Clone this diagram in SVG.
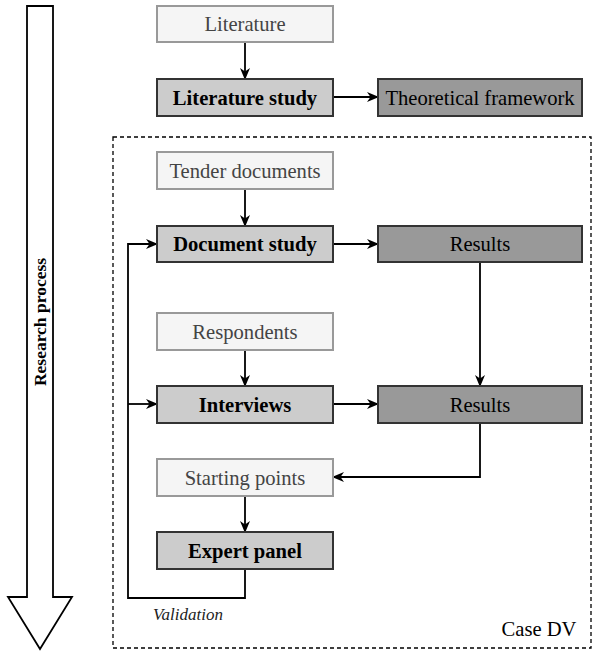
<svg xmlns="http://www.w3.org/2000/svg" width="593" height="652" viewBox="0 0 593 652">
<defs>
<style>
text{font-family:"Liberation Serif","Times New Roman",serif;font-size:20.6px;text-anchor:middle;dominant-baseline:central}
.light rect{fill:#f5f5f5;stroke:#999;stroke-width:2}
.light text{fill:#444}
.mid rect{fill:#ccc;stroke:#333;stroke-width:2}
.mid text{font-weight:bold;fill:#000}
.dark rect{fill:#999;stroke:#333;stroke-width:2}
.dark text{fill:#000}
.conn path{fill:none;stroke:#000;stroke-width:1.8}
</style>
<marker id="ah" viewBox="0 0 12 10" refX="11" refY="5" markerWidth="12" markerHeight="10" markerUnits="userSpaceOnUse" orient="auto">
<path d="M0,0 L12,5 L0,10 L3.5,5 Z" fill="#000"/>
</marker>
</defs>
<rect width="593" height="652" fill="#fff"/>
<g id="process-arrow">
<path d="M27,6 H53 V597 H72 L40,649 L8,597 H27 Z" fill="#fff" stroke="#000" stroke-width="1.8"/>
<text x="40" y="322" transform="rotate(-90 40 322)" style="font-weight:bold;font-size:17.5px">Research process</text>
</g>
<g id="case-dv">
<rect x="113" y="137" width="478" height="511" fill="none" stroke="#000" stroke-width="1.3" stroke-dasharray="4,3"/>
<text x="539" y="629">Case DV</text>
</g>
<g class="conn" id="connectors">
<path d="M245,42 V79" marker-end="url(#ah)"/>
<path d="M333,97 H378" marker-end="url(#ah)"/>
<path d="M245,189 V226" marker-end="url(#ah)"/>
<path d="M333,244 H378" marker-end="url(#ah)"/>
<path d="M480,262 V386" marker-end="url(#ah)"/>
<path d="M245,350 V386" marker-end="url(#ah)"/>
<path d="M333,404 H378" marker-end="url(#ah)"/>
<path d="M480,423 V477 H333" marker-end="url(#ah)"/>
<path d="M245,496 V532" marker-end="url(#ah)"/>
<path d="M245,569 V598 H128 V244 H157" marker-end="url(#ah)"/>
<path d="M128,404 H157" marker-end="url(#ah)"/>
<text x="188" y="614" style="font-style:italic;font-size:17px;fill:#222">Validation</text>
</g>
<g id="literature" class="light"><rect x="157" y="6" width="176" height="36"/><text x="245" y="24">Literature</text></g>
<g id="literature-study" class="mid"><rect x="157" y="79" width="176" height="37"/><text x="245" y="97.5">Literature study</text></g>
<g id="theoretical-framework" class="dark"><rect x="378" y="79" width="204" height="37"/><text x="480" y="97.5">Theoretical framework</text></g>
<g id="tender-documents" class="light"><rect x="157" y="152" width="176" height="37"/><text x="245" y="170.5">Tender documents</text></g>
<g id="document-study" class="mid"><rect x="157" y="226" width="176" height="36"/><text x="245" y="244">Document study</text></g>
<g id="results-1" class="dark"><rect x="378" y="226" width="204" height="36"/><text x="480" y="244">Results</text></g>
<g id="respondents" class="light"><rect x="157" y="313" width="176" height="37"/><text x="245" y="331.5">Respondents</text></g>
<g id="interviews" class="mid"><rect x="157" y="386" width="176" height="37"/><text x="245" y="404.5">Interviews</text></g>
<g id="results-2" class="dark"><rect x="378" y="386" width="204" height="37"/><text x="480" y="404.5">Results</text></g>
<g id="starting-points" class="light"><rect x="157" y="459" width="176" height="37"/><text x="245" y="477.5">Starting points</text></g>
<g id="expert-panel" class="mid"><rect x="157" y="532" width="176" height="37"/><text x="245" y="550.5">Expert panel</text></g>
</svg>
